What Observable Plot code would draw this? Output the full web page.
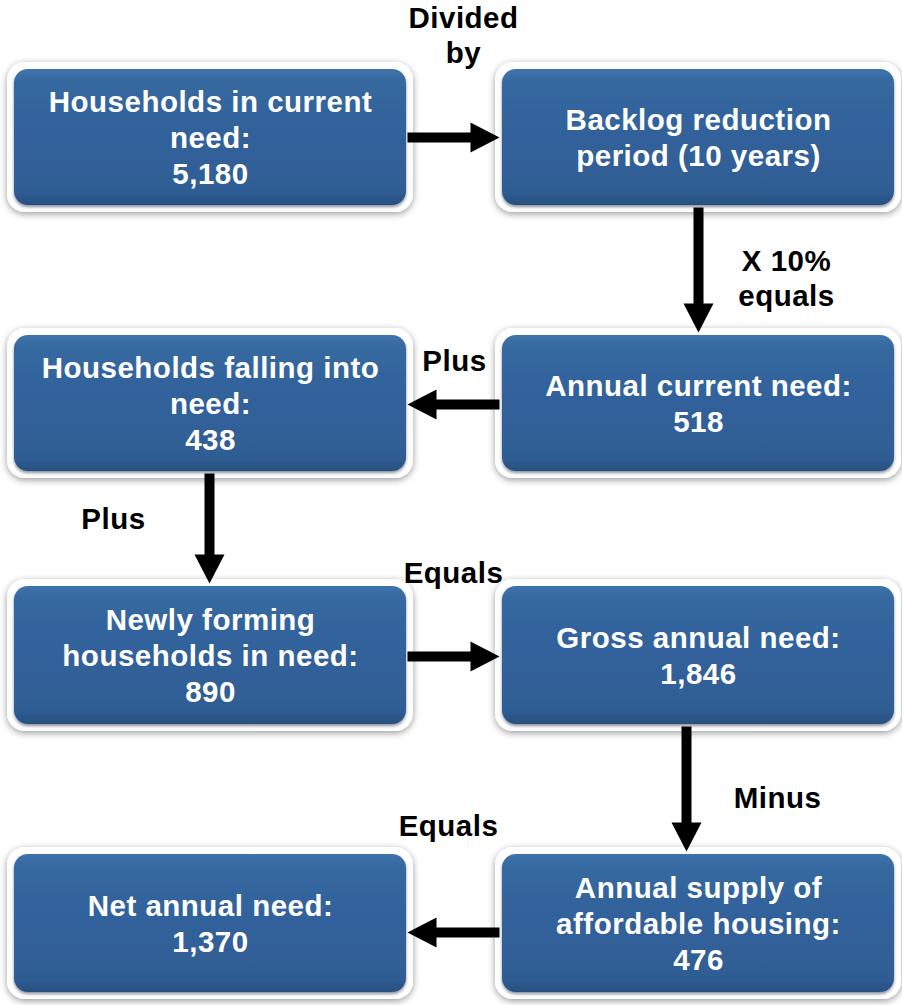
<!DOCTYPE html>
<html><head><meta charset="utf-8">
<script src="https://cdn.jsdelivr.net/npm/d3@7"></script>
<script src="https://cdn.jsdelivr.net/npm/@observablehq/plot@0.6"></script>
<style>body{margin:0;background:#fff}</style>
</head><body><div id="chart"></div>
<script>
// ---- data ----
const boxTitles = [
  "Households in current\nneed:",
  "Backlog reduction\nperiod (10 years)",
  "Annual current need:",
  "Households falling into\nneed:",
  "Newly forming\nhouseholds in need:",
  "Gross annual need:",
  "Net annual need:",
  "Annual supply of\naffordable housing:"
];
const boxValues = [5180, null, 518, 438, 890, 1846, 1370, 476];
const stepFrom = [0, 1, 2, 3, 4, 5, 7];
const stepTo   = [1, 2, 3, 4, 5, 7, 6];
const stepLabels = ["Divided\nby", "X 10%\nequals", "Plus", "Plus", "Equals", "Minus", "Equals"];

// ---- layout ----
const boxCol = [0, 1, 1, 0, 0, 1, 0, 1];
const boxRow = [0, 0, 1, 1, 2, 2, 3, 3];
const colLeft = [7, 495], colRight = [413, 901];
const rowTop = [62, 328, 579, 847], rowBottom = [212, 478, 731, 999];
const inset = 7;
const arrowShift = [0, 0, 1, -1, 1, -12, 9];
const labelX = [463, 786, 454, 113, 453, 777, 448];
const labelY = [33.5, 276.5, 359, 517, 571, 796, 824];
const headLen = 29, headHalf = 15;

const fmt = d3.format(",");
const boxes = boxTitles.map((t, i) => {
  const c = boxCol[i], r = boxRow[i];
  return {
    text: t + (boxValues[i] == null ? "" : "\n" + fmt(boxValues[i])),
    x1: colLeft[c], x2: colRight[c], y1: rowTop[r], y2: rowBottom[r],
    cx: (colLeft[c] + colRight[c]) / 2, cy: (rowTop[r] + rowBottom[r]) / 2
  };
});

const arrows = stepFrom.map((f, i) => {
  const a = boxes[f], b = boxes[stepTo[i]];
  if (boxRow[f] === boxRow[stepTo[i]]) {
    const y = a.cy + arrowShift[i];
    if (b.x1 > a.x1) {
      const x0 = a.x2 - 6, tip = b.x1 + 4;
      return {dir: "right", x0, y0: y, x1: tip - headLen + 1, y1: y, tx: tip, ty: y};
    } else {
      const x0 = a.x1 + 4, tip = b.x2 - 6;
      return {dir: "left", x0, y0: y, x1: tip + headLen - 1, y1: y, tx: tip, ty: y};
    }
  } else {
    const x = a.cx + arrowShift[i];
    const y0 = a.y2 - 5, tip = b.y1 + 4;
    return {dir: "down", x0: x, y0, x1: x, y1: tip - headLen + 1, tx: x, ty: tip};
  }
});
const labels = stepLabels.map((t, i) => ({text: t, x: labelX[i], y: labelY[i]}));

const symRight = {draw(ctx) { ctx.moveTo(0, 0); ctx.lineTo(-headLen, -headHalf); ctx.lineTo(-headLen, headHalf); ctx.closePath(); }};
const symLeft  = {draw(ctx) { ctx.moveTo(0, 0); ctx.lineTo(headLen, -headHalf); ctx.lineTo(headLen, headHalf); ctx.closePath(); }};
const symDown  = {draw(ctx) { ctx.moveTo(0, 0); ctx.lineTo(-headHalf, -headLen); ctx.lineTo(headHalf, -headLen); ctx.closePath(); }};

const font = "'Liberation Sans', Arial, Helvetica, sans-serif";

const svg = Plot.plot({
  width: 902, height: 1005, margin: 0,
  x: {domain: [0, 902], range: [0, 902], axis: null},
  y: {domain: [0, 1005], range: [0, 1005], axis: null},
  marks: [
    Plot.rect(boxes, {x1: "x1", x2: "x2", y1: "y1", y2: "y2", fill: "white", rx: 18}),
    Plot.rect(boxes, {x1: d => d.x1 + inset, x2: d => d.x2 - inset, y1: d => d.y1 + inset, y2: d => d.y2 - inset, fill: "url(#blueGrad)", rx: 14}),
    Plot.text(boxes, {x: "cx", y: d => d.cy - 1.5, text: "text", fill: "white", fontSize: 29.5, fontWeight: "bold", fontFamily: font, lineHeight: 1.22, textAnchor: "middle"}),
    Plot.link(arrows, {x1: "x0", y1: "y0", x2: "x1", y2: "y1", stroke: "black", strokeWidth: 10, strokeLinecap: "butt"}),
    Plot.dot(arrows.filter(d => d.dir === "right"), {x: "tx", y: "ty", symbol: symRight, fill: "black", stroke: "none"}),
    Plot.dot(arrows.filter(d => d.dir === "left"), {x: "tx", y: "ty", symbol: symLeft, fill: "black", stroke: "none"}),
    Plot.dot(arrows.filter(d => d.dir === "down"), {x: "tx", y: "ty", symbol: symDown, fill: "black", stroke: "none"}),
    Plot.text(labels, {x: "x", y: "y", text: "text", fill: "black", fontSize: 29.5, fontWeight: "bold", fontFamily: font, lineHeight: 1.2, textAnchor: "middle"})
  ]
});

const defs = document.createElementNS("http://www.w3.org/2000/svg", "defs");
defs.innerHTML = `
  <filter id="outerShadow" x="-10%" y="-20%" width="120%" height="140%">
    <feDropShadow dx="0" dy="2" stdDeviation="3.5" flood-color="#000" flood-opacity="0.4"/>
  </filter>
  <filter id="innerShadow" x="-10%" y="-20%" width="120%" height="140%">
    <feDropShadow dx="0" dy="2" stdDeviation="1.5" flood-color="#0a1f3a" flood-opacity="0.5"/>
  </filter>
  <linearGradient id="blueGrad" x1="0" y1="0" x2="0" y2="1">
    <stop offset="0" stop-color="#3d73ab"/>
    <stop offset="0.1" stop-color="#35689f"/>
    <stop offset="0.5" stop-color="#31619a"/>
    <stop offset="0.9" stop-color="#2f5d94"/>
    <stop offset="1" stop-color="#27507f"/>
  </linearGradient>`;
svg.insertBefore(defs, svg.firstChild);
const rectGroups = svg.querySelectorAll('g[aria-label="rect"]');
if (rectGroups[0]) rectGroups[0].setAttribute("filter", "url(#outerShadow)");
if (rectGroups[1]) rectGroups[1].setAttribute("filter", "url(#innerShadow)");
svg.querySelectorAll('g[aria-label="text"]').forEach(g => g.style.letterSpacing = "0.5px");
document.getElementById("chart").appendChild(svg);
</script>
</body></html>
